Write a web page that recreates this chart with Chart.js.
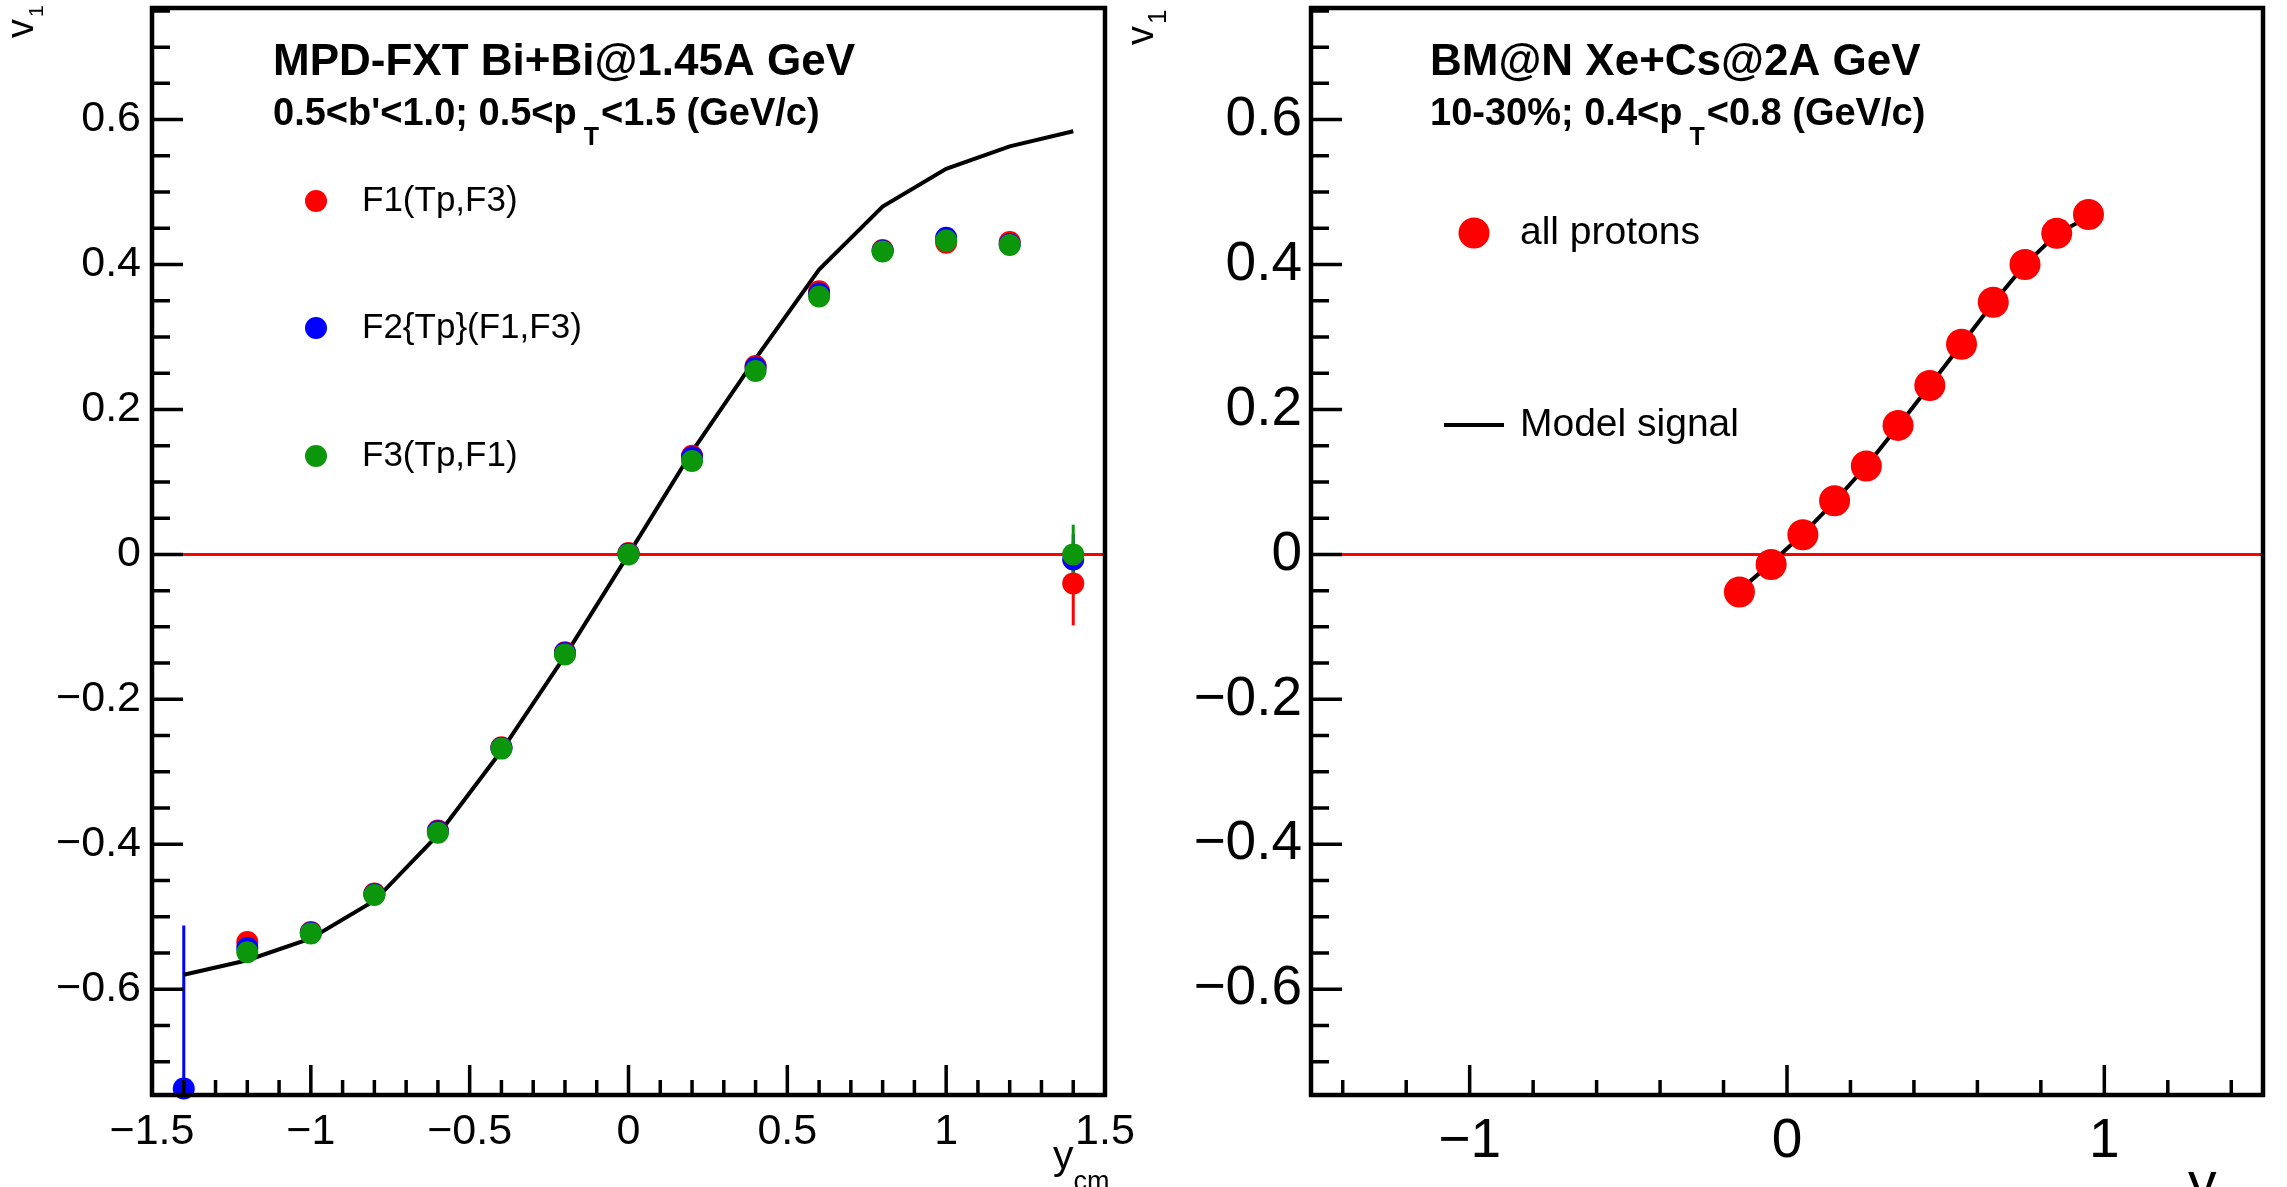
<!DOCTYPE html>
<html>
<head>
<meta charset="utf-8">
<script src="https://cdn.jsdelivr.net/npm/chart.js@4.4.1/dist/chart.umd.min.js"></script>
<style>
  html, body { margin: 0; padding: 0; background: #fff; }
  body { width: 2287px; height: 1187px; position: relative; overflow: hidden; }
  canvas { position: absolute; top: 0; }
  #left { left: 0; }
  #right { left: 1110px; }
</style>
</head>
<body>
<canvas id="left" width="1160" height="1187"></canvas>
<canvas id="right" width="1177" height="1187"></canvas>
<script>
// MPD-FXT Bi+Bi panel
const rapidityMpd = [-1.4, -1.2, -1.0, -0.8, -0.6, -0.4, -0.2, 0, 0.2, 0.4, 0.6, 0.8, 1.0, 1.2, 1.4];
const v1F1 = [null, -0.535, -0.521, -0.468, -0.381, -0.266, -0.135, 0.002, 0.136, 0.260, 0.363, 0.420, 0.430, 0.431, -0.040];
const errF1 = [0, 0, 0, 0, 0, 0, 0, 0, 0, 0, 0, 0, 0, 0, 0.058];
const v1F2 = [-0.737, -0.543, -0.522, -0.469, -0.382, -0.267, -0.136, 0.001, 0.134, 0.258, 0.360, 0.419, 0.437, 0.428, -0.007];
const errF2 = [0.225, 0, 0, 0, 0, 0, 0, 0, 0, 0, 0, 0, 0, 0, 0.035];
const v1F3 = [null, -0.549, -0.523, -0.470, -0.384, -0.268, -0.138, 0.000, 0.129, 0.253, 0.356, 0.418, 0.433, 0.427, 0.000];
const errF3 = [0, 0, 0, 0, 0, 0, 0, 0, 0, 0, 0, 0, 0, 0, 0.041];
const modelMpd = [-0.580, -0.560, -0.530, -0.478, -0.387, -0.271, -0.140, 0.000, 0.142, 0.270, 0.393, 0.480, 0.532, 0.563, 0.584];

// BM@N Xe+Cs panel
const rapidityBmn = [-0.15, -0.05, 0.05, 0.15, 0.25, 0.35, 0.45, 0.55, 0.65, 0.75, 0.85, 0.95];
const v1Bmn = [-0.052, -0.014, 0.027, 0.074, 0.122, 0.178, 0.233, 0.290, 0.348, 0.400, 0.443, 0.469];
const modelBmn = [-0.050, -0.012, 0.028, 0.073, 0.122, 0.177, 0.233, 0.290, 0.347, 0.400, 0.442, 0.466];

// axis ticks
const yTicks = [-0.6, -0.4, -0.2, 0, 0.2, 0.4, 0.6];
const xTicksMpd = [-1.5, -1, -0.5, 0, 0.5, 1, 1.5];
const xTicksBmn = [-1, 0, 1];

const FONT = 'Liberation Sans, Arial, sans-serif';
const RED = '#ff0000', BLUE = '#0000ff', GREEN = '#0c960c';

function pts(xs, ys, errs) {
	const out = [];
	xs.forEach((x, i) => {
		if (ys[i] === null) return;
		out.push({x: x, y: ys[i], err: errs ? errs[i] : 0});
	});
	return out;
}

function fmt(v) {
	return v < 0 ? '\u2212' + String(Math.abs(v)) : String(v);
}

// draws a row of text pieces, each {t, size, bold, dy}
function rich(ctx, x, y, parts) {
	parts.forEach(p => {
		ctx.font = (p.bold ? 'bold ' : '') + p.size + 'px ' + FONT;
		ctx.fillText(p.t, x, y + (p.dy || 0));
		x += ctx.measureText(p.t).width + (p.gap || 0);
	});
}

const zeroLine = {
	id: 'zeroLine',
	beforeDatasetsDraw(chart) {
		const {ctx, chartArea: a, scales: {y}} = chart;
		const py = y.getPixelForValue(0);
		ctx.save();
		ctx.strokeStyle = RED;
		ctx.lineWidth = 3;
		ctx.beginPath();
		ctx.moveTo(a.left, py);
		ctx.lineTo(a.right, py);
		ctx.stroke();
		// error bars, under the markers
		ctx.beginPath();
		ctx.rect(a.left, a.top, a.width, a.height);
		ctx.clip();
		chart.data.datasets.forEach((ds, i) => {
			const meta = chart.getDatasetMeta(i);
			ds.data.forEach((d, j) => {
				if (!d.err) return;
				const el = meta.data[j];
				ctx.strokeStyle = ds.backgroundColor;
				ctx.lineWidth = 3;
				ctx.beginPath();
				ctx.moveTo(el.x, y.getPixelForValue(d.y - d.err));
				ctx.lineTo(el.x, y.getPixelForValue(d.y + d.err));
				ctx.stroke();
			});
		});
		ctx.restore();
	}
};

function tickValues(scale, step) {
	const out = [];
	const i0 = Math.ceil(scale.min / step - 1e-6), i1 = Math.floor(scale.max / step + 1e-6);
	for (let i = i0; i <= i1; i++) out.push(i * step);
	return out;
}

const frame = {
	id: 'frame',
	afterDatasetsDraw(chart, args, opts) {
		const {ctx, chartArea: a, scales: {x, y}} = chart;
		ctx.save();
		ctx.strokeStyle = '#000';
		ctx.lineWidth = 3.5;
		ctx.beginPath();
		tickValues(y, opts.yMinor).forEach(v => {
			const major = Math.abs(v / opts.yMajor - Math.round(v / opts.yMajor)) < 1e-6;
			const py = y.getPixelForValue(v);
			if (py <= a.top + 2 || py >= a.bottom - 2) return;
			ctx.moveTo(a.left, py);
			ctx.lineTo(a.left + (major ? 31 : 18), py);
		});
		tickValues(x, opts.xMinor).forEach(v => {
			const major = Math.abs(v / opts.xMajor - Math.round(v / opts.xMajor)) < 1e-6;
			const px = x.getPixelForValue(v);
			if (px <= a.left + 2 || px >= a.right - 2) return;
			ctx.moveTo(px, a.bottom);
			ctx.lineTo(px, a.bottom - (major ? 30 : 15));
		});
		ctx.stroke();
		ctx.lineWidth = 4.5;
		ctx.strokeRect(a.left, a.top, a.width, a.height);
		ctx.restore();
	}
};

const decor = {
	id: 'decor',
	afterDraw(chart, args, opts) {
		const ctx = chart.ctx;
		const ox = opts.offset;
		ctx.save();
		ctx.fillStyle = '#000';
		ctx.textBaseline = 'alphabetic';
		ctx.textAlign = 'left';
		// title and cuts
		rich(ctx, opts.titleX - ox, 75, [{t: opts.title, size: 44, bold: true}]);
		rich(ctx, opts.titleX - ox, 125, [
			{t: opts.sub[0], size: 38, bold: true, gap: 7},
			{t: 'T', size: 25, bold: true, dy: 20, gap: 2},
			{t: opts.sub[1], size: 38, bold: true}
		]);
		// legend entries
		opts.legend.forEach(e => {
			const ds = chart.data.datasets[e.ds];
			if (e.line) {
				ctx.strokeStyle = ds.borderColor;
				ctx.lineWidth = 4;
				ctx.beginPath();
				ctx.moveTo(e.x - ox - 30, e.y);
				ctx.lineTo(e.x - ox + 30, e.y);
				ctx.stroke();
			} else {
				ctx.fillStyle = ds.backgroundColor;
				ctx.beginPath();
				ctx.arc(e.x - ox, e.y, ds.pointRadius, 0, Math.PI * 2);
				ctx.fill();
			}
			ctx.fillStyle = '#000';
			ctx.textBaseline = 'middle';
			ctx.font = e.size + 'px ' + FONT;
			ctx.fillText(ds.label, e.tx - ox, e.y);
			ctx.textBaseline = 'alphabetic';
		});
		// v1 axis title, rotated
		ctx.save();
		ctx.translate(opts.v1[0] - ox, opts.v1[1]);
		ctx.rotate(-Math.PI / 2);
		rich(ctx, 0, 0, [{t: 'v', size: 38, gap: 2}, {t: '1', size: opts.v1[2], dy: opts.v1[3]}]);
		ctx.restore();
		// rapidity axis title
		rich(ctx, opts.yx[0] - ox, opts.yx[1], [{t: 'y', size: opts.yx[2]}, {t: opts.ysub, size: 27, dy: 21}]);
		ctx.restore();
	}
};

function scales(xTicks, yW, size, xPad, yPad) {
	return {
		x: {
			type: 'linear', min: -1.5, max: 1.5,
			grid: {display: false, drawTicks: false}, border: {display: false},
			afterBuildTicks: s => { s.ticks = xTicks.map(v => ({value: v})); },
			afterFit: s => { s.height = 80; s.paddingLeft = 0; s.paddingRight = 0; },
			ticks: {font: {family: FONT, size: size}, color: '#000', padding: xPad, autoSkip: false, maxRotation: 0, callback: fmt}
		},
		y: {
			type: 'linear', min: -0.746, max: 0.754,
			grid: {display: false, drawTicks: false}, border: {display: false},
			afterBuildTicks: s => { s.ticks = yTicks.map(v => ({value: v})); },
			afterFit: s => { s.width = yW; s.paddingTop = 0; s.paddingBottom = 0; },
			ticks: {font: {family: FONT, size: size}, color: '#000', padding: yPad, callback: fmt}
		}
	};
}

const leftChart = new Chart(document.getElementById('left'), {
	type: 'scatter',
	data: {
		datasets: [
			{label: 'F1(Tp,F3)', data: pts(rapidityMpd, v1F1, errF1), backgroundColor: RED, pointRadius: 11, pointBorderWidth: 0, clip: false, order: 3},
			{label: 'F2{Tp}(F1,F3)', data: pts(rapidityMpd, v1F2, errF2), backgroundColor: BLUE, pointRadius: 11, pointBorderWidth: 0, clip: false, order: 2},
			{label: 'F3(Tp,F1)', data: pts(rapidityMpd, v1F3, errF3), backgroundColor: GREEN, pointRadius: 11, pointBorderWidth: 0, clip: false, order: 1},
			{label: 'model', data: pts(rapidityMpd, modelMpd), showLine: true, borderColor: '#000', borderWidth: 4, pointRadius: 0, order: 4}
		]
	},
	options: {
		responsive: false, animation: false, events: [],
		layout: {autoPadding: false, padding: {left: 0, right: 55, top: 8, bottom: 12}},
		scales: scales(xTicksMpd, 152, 43, 11, 11),
		plugins: {
			legend: {display: false}, tooltip: {enabled: false},
			frame: {yMinor: 0.05, yMajor: 0.2, xMinor: 0.1, xMajor: 0.5},
			decor: {
				offset: 0, titleX: 273,
				title: 'MPD-FXT Bi+Bi@1.45A GeV',
				sub: ["0.5<b'<1.0; 0.5<p", '<1.5 (GeV/c)'],
				legend: [
					{ds: 0, x: 316, y: 201, tx: 362, size: 35},
					{ds: 1, x: 316, y: 328, tx: 362, size: 35},
					{ds: 2, x: 316, y: 456, tx: 362, size: 35}
				],
				v1: [33, 38, 21, 10], yx: [1053, 1169, 41], ysub: 'cm'
			}
		}
	},
	plugins: [zeroLine, frame, decor]
});

const rightChart = new Chart(document.getElementById('right'), {
	type: 'scatter',
	data: {
		datasets: [
			{label: 'all protons', data: pts(rapidityBmn, v1Bmn), backgroundColor: RED, pointRadius: 15.5, pointBorderWidth: 0, clip: false, order: 1},
			{label: 'Model signal', data: pts(rapidityBmn, modelBmn), showLine: true, borderColor: '#000', borderWidth: 4, pointRadius: 0, order: 2}
		]
	},
	options: {
		responsive: false, animation: false, events: [],
		layout: {autoPadding: false, padding: {left: 0, right: 24, top: 8, bottom: 12}},
		scales: scales(xTicksBmn, 201, 55, 14, 9),
		plugins: {
			legend: {display: false}, tooltip: {enabled: false},
			frame: {yMinor: 0.05, yMajor: 0.2, xMinor: 0.2, xMajor: 1},
			decor: {
				offset: 1110, titleX: 1430,
				title: 'BM@N Xe+Cs@2A GeV',
				sub: ['10-30%; 0.4<p', '<0.8 (GeV/c)'],
				legend: [
					{ds: 0, x: 1474, y: 233, tx: 1520, size: 39},
					{ds: 1, x: 1474, y: 425, tx: 1520, size: 39, line: true}
				],
				v1: [1153, 45, 26, 13], yx: [2188, 1202, 57], ysub: ''
			}
		}
	},
	plugins: [zeroLine, frame, decor]
});
</script>
</body>
</html>
